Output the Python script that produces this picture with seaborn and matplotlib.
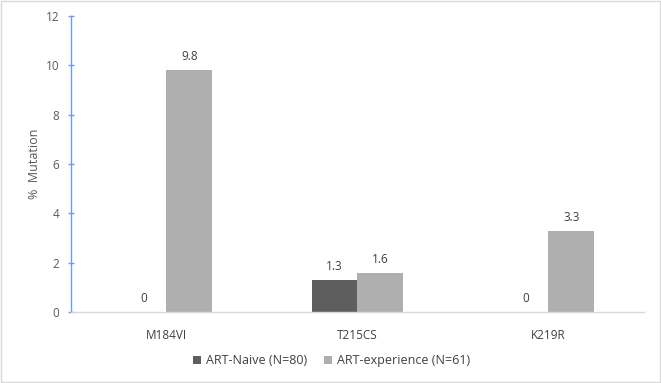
import matplotlib
matplotlib.use("Agg")
import matplotlib.pyplot as plt
import seaborn as sns
import pandas as pd
from matplotlib.patches import Rectangle

categories = ["M184VI", "T215CS", "K219R"]
series_names = ["ART-Naive (N=80)", "ART-experience (N=61)"]
naive = [0, 1.3, 0]
experience = [9.8, 1.6, 3.3]
yticks = [0, 2, 4, 6, 8, 10, 12]

rows = []
for c, v in zip(categories, naive):
    rows.append({"cat": c, "grp": series_names[0], "val": v})
for c, v in zip(categories, experience):
    rows.append({"cat": c, "grp": series_names[1], "val": v})
df = pd.DataFrame(rows)

sns.set_theme(style="white")
plt.rcParams["font.family"] = ["Open Sans", "DejaVu Sans"]

fig = plt.figure(figsize=(6.61, 3.83), dpi=100)
ax = fig.add_axes([0.1074, 0.1854, 0.8666, 0.7726])
colors = ["#5e5e5e", "#afafaf"]
sns.barplot(data=df, x="cat", y="val", hue="grp", palette=colors, width=0.48,
            ax=ax, saturation=1, errorbar=None, legend=True, linewidth=0)

for cont in ax.containers:
    ax.bar_label(cont, fmt="%g", padding=5, fontsize=8.5, color="#404040")

ax.set_ylim(0, 12)
ax.set_yticks(yticks)
ax.set_xlim(-0.5, 2.5)
ax.set_xlabel("")
ax.set_ylabel("%  Mutation", fontsize=9, color="#595959", labelpad=3)
ax.tick_params(axis="y", direction="inout", length=5, width=1, color="#6f9be8",
               labelsize=8.5, labelcolor="#595959", pad=6, left=True)
ax.tick_params(axis="x", length=0, labelsize=8.5, labelcolor="#404040", pad=12)
for s in ["top", "right"]:
    ax.spines[s].set_visible(False)
ax.spines["left"].set_color("#6f9be8")
ax.spines["left"].set_linewidth(1)
ax.spines["bottom"].set_color("#d9d9d9")
ax.spines["bottom"].set_linewidth(1)

leg = ax.legend(loc="center", bbox_to_anchor=(0.455, -0.165), ncol=2, frameon=False,
                fontsize=9.0, handlelength=0.6, handleheight=0.6, handletextpad=0.4,
                columnspacing=1.4)
for t in leg.get_texts():
    t.set_color("#404040")

fig.patches.append(Rectangle((0.002, 0.003), 0.996, 0.994, transform=fig.transFigure,
                             fill=False, edgecolor="#d9d9d9", linewidth=1))
fig.savefig("out.png", dpi=100)
